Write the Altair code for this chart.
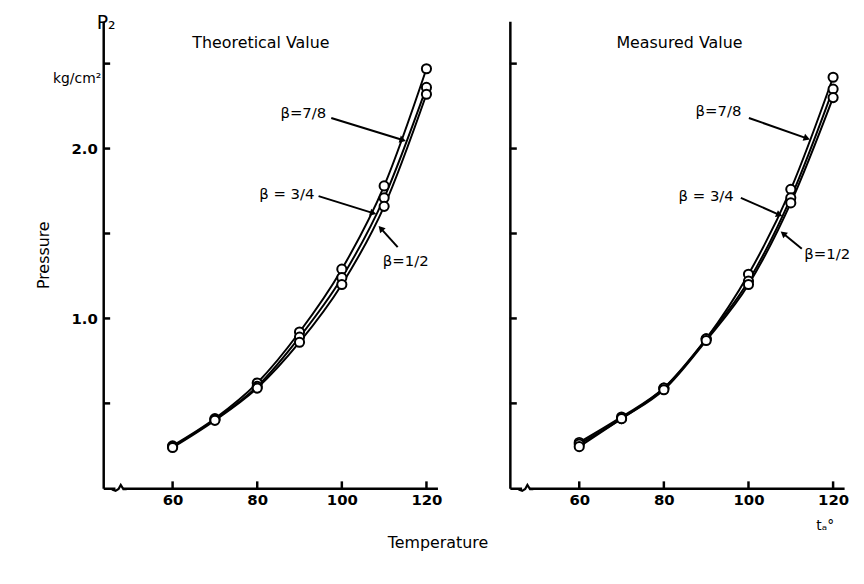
import math
import altair as alt
import pandas as pd

# ---------------- data ----------------
temps = [60, 70, 80, 90, 100, 110, 120]
series_names = ["β = 7/8", "β = 3/4", "β = 1/2"]

theo_b78 = [0.25, 0.41, 0.62, 0.92, 1.29, 1.78, 2.47]
theo_b34 = [0.245, 0.405, 0.60, 0.89, 1.24, 1.71, 2.36]
theo_b12 = [0.24, 0.40, 0.59, 0.86, 1.20, 1.66, 2.32]

meas_b78 = [0.27, 0.42, 0.59, 0.88, 1.26, 1.76, 2.42]
meas_b34 = [0.26, 0.41, 0.59, 0.88, 1.22, 1.71, 2.35]
meas_b12 = [0.245, 0.41, 0.58, 0.87, 1.20, 1.68, 2.30]

x_ticks = [60, 80, 100, 120]
y_ticks = [0.5, 1.0, 1.5, 2.0, 2.5]

ann_labels = ["β=7/8", "β = 3/4", "β=1/2"]
# theoretical panel annotations (data units)
theo_lab_x = [90.9, 87.0, 115.1]
theo_lab_y = [2.21, 1.73, 1.34]
theo_arr_x1 = [97.5, 94.5, 113.2]
theo_arr_y1 = [2.18, 1.72, 1.42]
theo_arr_x2 = [114.4, 107.4, 109.2]
theo_arr_y2 = [2.05, 1.62, 1.53]
# measured panel annotations (data units)
meas_lab_x = [92.9, 90.0, 118.6]
meas_lab_y = [2.22, 1.72, 1.38]
meas_arr_x1 = [100.1, 98.2, 112.6]
meas_arr_y1 = [2.18, 1.71, 1.41]
meas_arr_x2 = [113.8, 107.3, 108.2]
meas_arr_y2 = [2.06, 1.61, 1.50]

axis_break_x = [47.4]

# ---------------- layout constants ----------------
W, H = 337, 471
X_DOM = [43.6, 122.6]
Y_DOM = [0, 2.75]
FONT = "DejaVu Sans"
PX_X = W / (X_DOM[1] - X_DOM[0])
PX_Y = H / (Y_DOM[1] - Y_DOM[0])


def panel(series_vals, title, title_x, lab_x, lab_y, ax1, ay1, ax2, ay2, left):
    rows = []
    for name, vals in zip(series_names, series_vals):
        for t, v in zip(temps, vals):
            rows.append({"T": t, "P": v, "beta": name})
    df = pd.DataFrame(rows)

    xs = alt.Scale(domain=X_DOM, nice=False, zero=False)
    ys = alt.Scale(domain=Y_DOM, nice=False, zero=False)

    if left:
        xaxis = alt.Axis(values=x_ticks, ticks=False, tickSize=0, grid=False,
                         labelFont=FONT, labelFontSize=15, labelFontWeight="bold",
                         labelColor="black", labelPadding=4,
                         domainColor="black", domainWidth=2.5,
                         title="Temperature", titleFont=FONT, titleFontSize=16,
                         titleFontWeight="normal", titleColor="black",
                         titleX=W, titleY=55, titleAlign="center",
                         titleBaseline="middle")
        yaxis = alt.Axis(values=y_ticks, ticks=False, tickSize=0, grid=False,
                         labelExpr="datum.value == 1 || datum.value == 2 ? format(datum.value, '.1f') : ''",
                         labelFont=FONT, labelFontSize=15, labelFontWeight="bold",
                         labelColor="black", labelPadding=6,
                         domainColor="black", domainWidth=2.5,
                         title="Pressure", titleFont=FONT, titleFontSize=16,
                         titleFontWeight="normal", titleColor="black",
                         titlePadding=20)
    else:
        xaxis = alt.Axis(values=x_ticks, ticks=False, tickSize=0, grid=False,
                         labelFont=FONT, labelFontSize=15, labelFontWeight="bold",
                         labelColor="black", labelPadding=4,
                         domainColor="black", domainWidth=2.5, title=None)
        yaxis = alt.Axis(values=y_ticks, ticks=False, tickSize=0, grid=False,
                         labels=False, domainColor="black", domainWidth=2.5,
                         title=None)

    base = alt.Chart(df)
    lines = base.mark_line(color="black", strokeWidth=2, interpolate="monotone").encode(
        x=alt.X("T:Q", scale=xs, axis=xaxis),
        y=alt.Y("P:Q", scale=ys, axis=yaxis),
        detail="beta:N",
    )
    pts = base.mark_point(shape="circle", filled=True, fill="white", stroke="black",
                          strokeWidth=2, size=85, opacity=1).encode(
        x="T:Q", y="P:Q"
    )

    ytick_df = pd.DataFrame({"P": y_ticks})
    yticks = alt.Chart(ytick_df).mark_rule(color="black", strokeWidth=2.5).encode(
        y="P:Q", x=alt.value(0), x2=alt.value(7)
    )
    xtick_df = pd.DataFrame({"T": x_ticks})
    xticks = alt.Chart(xtick_df).mark_rule(color="black", strokeWidth=2.5).encode(
        x="T:Q", y=alt.value(H), y2=alt.value(H - 7)
    )

    brk_df = pd.DataFrame({"T": axis_break_x, "P": [0.0]})
    brk_mask = alt.Chart(brk_df).mark_point(
        shape="square", filled=True, color="white", size=60, opacity=1
    ).encode(x="T:Q", y="P:Q")
    brk = alt.Chart(brk_df).mark_point(
        shape="M -1 0.15 L -0.5 0.35 L -0.1 0.1 L 0.2 -0.45 L 0.55 0.1 L 1 0.1",
        filled=False, stroke="black", strokeWidth=2.2, size=220, opacity=1
    ).encode(x="T:Q", y="P:Q")

    arr_df = pd.DataFrame({"T": ax1, "P": ay1, "T2": ax2, "P2": ay2})
    arrows = alt.Chart(arr_df).mark_rule(color="black", strokeWidth=2).encode(
        x="T:Q", y="P:Q", x2="T2:Q", y2="P2:Q"
    )
    angs = []
    for a, b, c, d in zip(ax1, ay1, ax2, ay2):
        dx = (c - a) * PX_X
        dy = -(d - b) * PX_Y
        angs.append(math.degrees(math.atan2(dy, dx)) % 360)
    head_df = pd.DataFrame({"T": ax2, "P": ay2, "ang": angs})
    heads = alt.Chart(head_df).mark_point(shape="triangle-right", filled=True,
                                           color="black", size=55, opacity=1).encode(
        x="T:Q", y="P:Q", angle=alt.Angle("ang:Q", scale=None)
    )

    lab_df = pd.DataFrame({"T": lab_x, "P": lab_y, "txt": ann_labels})
    labels = alt.Chart(lab_df).mark_text(font=FONT, fontSize=15, color="black",
                                          align="center", baseline="middle").encode(
        x="T:Q", y="P:Q", text="txt:N"
    )

    ttl = alt.Chart(pd.DataFrame({"t": [title]})).mark_text(
        font=FONT, fontSize=16, color="black", align="center", baseline="middle"
    ).encode(x=alt.value(title_x), y=alt.value(22), text="t:N")

    layers = [lines, yticks, xticks, brk_mask, brk, arrows, heads, pts, labels, ttl]

    if left:
        p2 = alt.Chart(pd.DataFrame({"t": ["P₂"]})).mark_text(
            font=FONT, fontSize=19, color="black", align="center", baseline="middle"
        ).encode(x=alt.value(3), y=alt.value(2), text="t:N")
        unit = alt.Chart(pd.DataFrame({"t": ["kg/cm²"]})).mark_text(
            font=FONT, fontSize=14, color="black", align="right", baseline="middle"
        ).encode(x=alt.value(-2), y=alt.value(58), text="t:N")
        layers += [p2, unit]
    else:
        ta = alt.Chart(pd.DataFrame({"t": ["tₐ°"]})).mark_text(
            font=FONT, fontSize=14, color="black", align="center", baseline="middle"
        ).encode(x=alt.value(W - 19), y=alt.value(H + 38), text="t:N")
        layers += [ta]

    return alt.layer(*layers).properties(width=W, height=H)


left = panel([theo_b78, theo_b34, theo_b12], "Theoretical  Value", 159,
             theo_lab_x, theo_lab_y, theo_arr_x1, theo_arr_y1, theo_arr_x2, theo_arr_y2, True)
right = panel([meas_b78, meas_b34, meas_b12], "Measured  Value", 171,
              meas_lab_x, meas_lab_y, meas_arr_x1, meas_arr_y1, meas_arr_x2, meas_arr_y2, False)

chart = alt.hconcat(left, right, spacing=73, bounds="flush").properties(
    padding={"left": 27, "top": 4, "right": 5, "bottom": 5},
    background="white",
).configure_view(strokeWidth=0)

chart.save("out.html", embed_options={"renderer": "svg", "actions": False})
